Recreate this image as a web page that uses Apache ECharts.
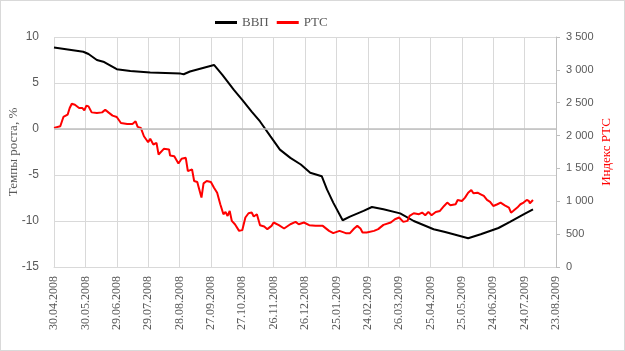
<!DOCTYPE html>
<html>
<head>
<meta charset="utf-8">
<script src="https://cdn.jsdelivr.net/npm/echarts@6/dist/echarts.min.js"></script>
<style>
  html, body { margin: 0; padding: 0; background: #fff; }
  #chart { width: 625px; height: 351px; box-sizing: border-box; border: 1px solid #d9d9d9; }
</style>
</head>
<body>
<div id="chart"></div>
<script>
// дни от 30.04.2008
var startDate = Date.UTC(2008, 3, 30);

// ВВП, темпы роста %
var gdpDays = [0, 28, 33, 41, 48, 60, 73, 92, 121, 124, 130, 153, 161, 172, 180, 189, 197, 207, 216, 226, 236, 245, 256, 261, 267, 276, 283, 296, 304, 315, 331, 344, 363, 374, 382, 396, 408, 425, 436, 449, 458];
var gdpValues = [8.87, 8.4, 8.15, 7.5, 7.28, 6.5, 6.3, 6.13, 6.02, 5.95, 6.25, 6.96, 5.88, 4.25, 3.17, 1.9, 0.82, -0.8, -2.24, -3.14, -3.86, -4.76, -5.13, -6.57, -8.0, -9.92, -9.52, -8.9, -8.48, -8.73, -9.17, -10.0, -10.9, -11.2, -11.44, -11.87, -11.44, -10.76, -10.1, -9.27, -8.73];

// Индекс РТС
var rtsDays = [0, 6, 9, 13, 15, 17, 20, 24, 27, 29, 31, 33, 36, 41, 46, 49, 52, 56, 60, 64, 70, 75, 78, 80, 83, 86, 90, 92, 95, 98, 100, 105, 110, 111, 115, 119, 122, 126, 128, 132, 134, 137, 138, 141, 143, 146, 150, 153, 156, 159, 162, 164, 166, 168, 170, 173, 177, 180, 183, 186, 189, 191, 194, 197, 201, 204, 208, 210, 215, 220, 226, 231, 234, 239, 244, 250, 257, 263, 267, 273, 279, 283, 287, 290, 293, 295, 299, 306, 310, 315, 322, 326, 330, 334, 338, 340, 344, 349, 352, 355, 358, 361, 365, 369, 373, 376, 379, 384, 386, 390, 393, 396, 399, 401, 405, 408, 411, 414, 417, 420, 424, 427, 431, 435, 437, 439, 443, 446, 449, 452, 454, 455, 458];
var rtsValues = [2117, 2141, 2283, 2318, 2420, 2485, 2470, 2420, 2420, 2383, 2455, 2444, 2353, 2344, 2353, 2394, 2353, 2303, 2283, 2192, 2177, 2177, 2217, 2132, 2117, 1990, 1899, 1950, 1864, 1889, 1712, 1798, 1788, 1697, 1686, 1576, 1647, 1662, 1459, 1485, 1308, 1293, 1232, 1056, 1273, 1308, 1293, 1207, 1131, 955, 803, 838, 777, 853, 702, 651, 550, 561, 753, 818, 828, 768, 803, 636, 616, 576, 626, 677, 636, 586, 651, 687, 651, 677, 636, 626, 626, 550, 515, 550, 515, 515, 586, 626, 586, 525, 525, 550, 576, 641, 677, 727, 753, 687, 702, 777, 818, 803, 828, 788, 838, 788, 838, 853, 929, 980, 939, 955, 1020, 1005, 1056, 1131, 1171, 1121, 1131, 1106, 1081, 1020, 990, 929, 955, 980, 939, 904, 828, 853, 904, 955, 980, 1020, 1005, 970, 1020];

var seriesNames = ['ВВП', 'РТС'];

function pair(days, vals) {
    return days.map(function (d, i) { return [d, vals[i]]; });
}

function dayLabel(d) {
    var dt = new Date(startDate + d * 86400000);
    var dd = ('0' + dt.getUTCDate()).slice(-2);
    var mm = ('0' + (dt.getUTCMonth() + 1)).slice(-2);
    return dd + '.' + mm + '.' + dt.getUTCFullYear();
}

var chart = echarts.init(document.getElementById('chart'));

var option = {
    animation: false,
    legend: {
        top: 10,
        left: 209,
        icon: 'rect',
        itemWidth: 22,
        itemHeight: 3,
        itemGap: 8,
        data: seriesNames,
        textStyle: { fontFamily: 'Liberation Serif', fontSize: 13, color: '#595959' }
    },
    grid: { left: 53, right: 68, top: 36, bottom: 83, outerBoundsMode: 'none' },
    xAxis: {
        type: 'value',
        min: 0,
        max: 480,
        interval: 30,
        axisLine: { show: true, onZero: false, lineStyle: { color: '#d9d9d9' } },
        axisTick: { show: false },
        splitLine: { show: true, lineStyle: { color: '#d9d9d9' } },
        axisLabel: {
            rotate: 90,
            margin: 9,
            fontFamily: 'Liberation Serif',
            fontSize: 12,
            color: '#595959',
            formatter: dayLabel
        }
    },
    yAxis: [
        {
            type: 'value',
            min: -15,
            max: 10,
            interval: 5,
            name: 'Темпы роста, %',
            nameLocation: 'middle',
            nameRotate: 90,
            nameGap: 34,
            nameMoveOverlap: false,
            nameTextStyle: { fontFamily: 'Liberation Serif', fontSize: 13, color: '#595959' },
            axisLine: { show: false },
            axisTick: { show: false },
            splitLine: { lineStyle: { color: '#d9d9d9' } },
            axisLabel: { margin: 15, fontFamily: 'Liberation Sans', fontSize: 12, color: '#595959' }
        },
        {
            type: 'value',
            min: 0,
            max: 3500,
            interval: 500,
            position: 'right',
            name: 'Индекс РТС',
            nameLocation: 'middle',
            nameRotate: 90,
            nameGap: 44,
            nameMoveOverlap: false,
            nameTextStyle: { fontFamily: 'Liberation Serif', fontSize: 13, color: '#ff0000' },
            axisLine: { show: true, lineStyle: { color: '#bfbfbf' } },
            axisTick: { show: true, length: 4, lineStyle: { color: '#bfbfbf' } },
            splitLine: { show: false },
            axisLabel: {
                margin: 10,
                fontFamily: 'Liberation Sans',
                fontSize: 11,
                color: '#595959',
                formatter: function (v) {
                    return String(v).replace(/\B(?=(\d{3})+(?!\d))/g, ' ');
                }
            }
        }
    ],
    series: [
        {
            name: seriesNames[0],
            type: 'line',
            yAxisIndex: 0,
            symbol: 'none',
            data: pair(gdpDays, gdpValues),
            lineStyle: { color: '#000000', width: 2 },
            itemStyle: { color: '#000000' },
            z: 3,
            markLine: {
                silent: true,
                symbol: 'none',
                label: { show: false },
                lineStyle: { color: '#bfbfbf', width: 1.5, type: 'solid' },
                data: [{ yAxis: 0 }]
            }
        },
        {
            name: seriesNames[1],
            type: 'line',
            yAxisIndex: 1,
            symbol: 'none',
            data: pair(rtsDays, rtsValues),
            lineStyle: { color: '#ff0000', width: 2 },
            itemStyle: { color: '#ff0000' },
            z: 4
        }
    ]
};

chart.setOption(option);
</script>
</body>
</html>
